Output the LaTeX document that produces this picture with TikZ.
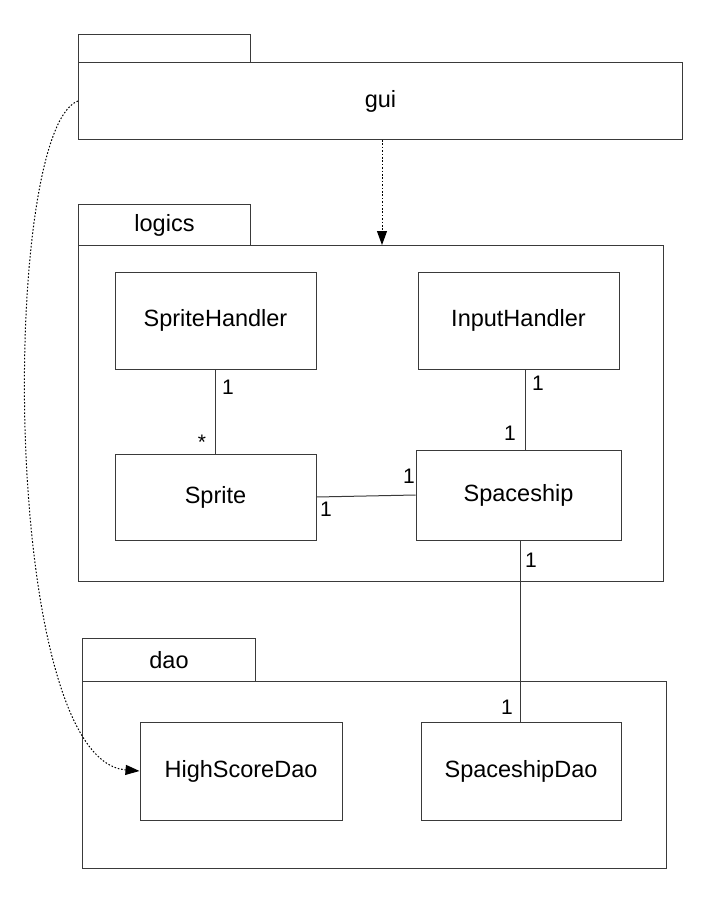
\documentclass[tikz,border=0pt]{standalone}
\usepackage{fontspec}
\setmainfont{Liberation Sans}
\usetikzlibrary{arrows.meta,positioning,calc}
\definecolor{umlLine}{HTML}{3A3A3A}
\tikzset{
    umlClass/.style={
        rectangle,
        draw=umlLine,
        line width=1pt,
        minimum width=201,
        minimum height=97,
        inner sep=0pt,
        font=\fontsize{23.5}{28}\selectfont
    },
    umlPkg/.style={
        rectangle,
        draw=umlLine,
        line width=1pt,
        anchor=north west,
        inner sep=0pt,
        font=\fontsize{23.5}{28}\selectfont
    },
    umlMult/.style={font=\fontsize{21}{24}\selectfont, inner sep=0pt},
    umlAssoc/.style={draw=umlLine, line width=1pt},
    umlDep/.style={draw=black, line width=1pt, dash pattern=on 1.6pt off 1.8pt,
        -{Triangle[length=14pt,width=10pt]}}
}
\begin{document}
\begin{tikzpicture}[x=1pt,y=-1pt]
\useasboundingbox (0,0) rectangle (726,918);

% packages
\node[umlPkg, minimum width=172, minimum height=28] (guiTab) at (78,34) {};
\node[umlPkg, minimum width=604, minimum height=77] (gui) at (78,62) {gui};
\node[umlPkg, minimum width=172, minimum height=41] (logicsTab) at (78,204) {logics};
\node[umlPkg, minimum width=585, minimum height=336] (logics) at (78,245) {};
\node[umlPkg, minimum width=173, minimum height=43] (daoTab) at (82,638) {dao};
\node[umlPkg, minimum width=584, minimum height=187] (dao) at (82,681) {};

% classes
\node[umlClass] (spriteHandler) at (215.5,320.5) {SpriteHandler};
\node[umlClass] (inputHandler) at (518.5,320.5) {InputHandler};
\node[umlClass, minimum height=86] (sprite) at (215.5,497) {Sprite};
\node[umlClass, minimum width=205, minimum height=90] (spaceship) at (518.5,495) {Spaceship};
\node[umlClass, minimum width=202, minimum height=98] (highScoreDao) at (241,771) {HighScoreDao};
\node[umlClass, minimum width=200, minimum height=98] (spaceshipDao) at (521,771) {SpaceshipDao};

% associations
\draw[umlAssoc] (spriteHandler) -- (sprite);
\draw[umlAssoc] ([xshift=6.5]inputHandler.south) -- ([xshift=6.5]spaceship.north);
\draw[umlAssoc] (sprite.east) -- (spaceship.west);
\draw[umlAssoc] ([xshift=1.5]spaceship.south) -- ([xshift=1.5]spaceship.south |- spaceshipDao.north);

% multiplicities
\node[umlMult] (mSpriteHandler) at (228,387) {1};
\node[umlMult] (mSprite) at (202,442) {*};
\node[umlMult] (mInputHandler) at (538,383) {1};
\node[umlMult] (mShipTop) at (510,433) {1};
\node[umlMult] (mSpriteRight) at (326,509) {1};
\node[umlMult] (mShipLeft) at (409,476) {1};
\node[umlMult] (mShipBottom) at (531,560) {1};
\node[umlMult] (mShipDao) at (507,707) {1};

% dependencies
\draw[umlDep] (gui.south -| 382,0) -- (logics.north -| 382,0);
\draw[umlDep] (gui.west) .. controls (0,130) and (0,760) .. (highScoreDao.west);
\end{tikzpicture}
\end{document}
